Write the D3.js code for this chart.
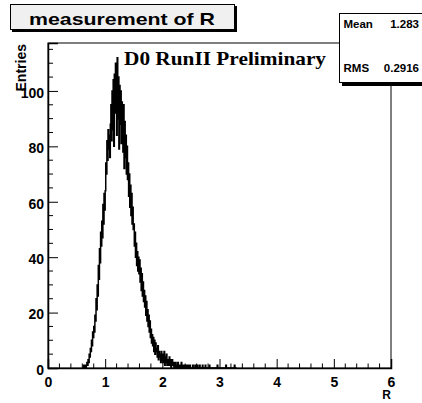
<!DOCTYPE html>
<html><head><meta charset="utf-8">
<script src="https://cdn.jsdelivr.net/npm/d3@7"></script>
<style>body{margin:0;background:#fff}svg{display:block}</style>
</head><body>
<script>
// Histogram: bins of width 0.01 starting at R = 0.60
const binStart = 0.60;
const binWidth = 0.01;
const counts = [
  0,0,1,0,0,1,0,1,2,1,
  3,2,5,4,7,6,10,8,13,11,
  15,13,19,17,25,21,30,26,37,32,
  43,38,49,44,53,47,59,52,63,57,
  64,74,70,82,75,86,79,84,76,88,
  95,82,100,86,104,80,106,92,110,98,
  84,112,90,105,79,102,88,100,81,96,
  91,78,95,72,89,76,84,70,80,68,
  74,62,70,58,66,55,63,52,58,50,
  52,44,49,40,45,37,42,35,40,34,
  39,31,36,28,34,26,31,24,28,22,
  26,19,24,17,21,15,19,13,17,11,
  14,9,12,8,11,6,10,5,9,6,
  7,4,8,3,6,4,5,2,6,3,
  5,2,4,6,1,4,2,5,1,3,
  3,1,4,1,3,0,2,3,1,2,
  2,0,1,2,0,1,0,2,1,0,
  1,0,1,2,0,1,0,1,0,0,
  1,0,0,1,0,1,0,0,1,0,
  0,0,0,1,0,0,0,1,0,0,
  0,1,0,0,0,1,0,0,0,0,
  1,0,0,0,0,1,0,0,0,0,
  0,0,1,0,0,0,0,0,0,0,
  0,0,0,0,0,0,1,0,0,0,
  0,0,0,0,0,0,0,0,0,0,
  0,1,0,0,0,0,0,0,0,0,
  0,0,0,0,0,0,1,0,0,0
];
const xTicks = [0,1,2,3,4,5,6];
const yTicks = [0,20,40,60,80,100];
const titleText = "measurement of R";
const statLabels = ["Mean","RMS"];
const statValues = ["1.283","0.2916"];
const xTitle = "R";
const yTitle = "Entries";
const watermark = "D0 RunII Preliminary";

const W = 422, H = 403;
const L = 48, R = 391, T = 43, B = 368;
const svg = d3.select("body").append("svg").attr("width", W).attr("height", H);
svg.append("rect").attr("width", W).attr("height", H).attr("fill", "#fff");

const x = d3.scaleLinear().domain([0, 6]).range([L, R]);
const y = d3.scaleLinear().domain([0, 117.3]).range([B, T]);

// frame
svg.append("rect").attr("x", L).attr("y", T).attr("width", R - L).attr("height", B - T)
  .attr("fill", "none").attr("stroke", "#000").attr("stroke-width", 1);

// histogram step path
const pts = [];
pts.push([x(binStart), y(0)]);
counts.forEach((c, i) => {
  const x0 = x(binStart + i * binWidth), x1 = x(binStart + (i + 1) * binWidth);
  pts.push([x0, y(c)]);
  pts.push([x1, y(c)]);
});
pts.push([x(binStart + counts.length * binWidth), y(0)]);
svg.append("path").attr("d", d3.line()(pts)).attr("fill", "none")
  .attr("stroke", "#000").attr("stroke-width", 1.5);

// axes
const font = "'Liberation Sans', Arial, Helvetica, sans-serif";
const xAxis = d3.axisBottom(x).tickValues(xTicks).tickSize(-9).tickPadding(9).tickFormat(d3.format("d"));
const gx = svg.append("g").attr("transform", `translate(0,${B})`).call(xAxis);
const xMinor = d3.range(0, 6.001, 0.2).filter(v => Math.abs(v - Math.round(v)) > 1e-6);
gx.selectAll(".minor").data(xMinor).enter().append("line").attr("class", "minor")
  .attr("x1", d => x(d)).attr("x2", d => x(d)).attr("y1", 0).attr("y2", -4.5).attr("stroke", "#000");

const yAxis = d3.axisLeft(y).tickValues(yTicks).tickSize(-10).tickPadding(5).tickFormat(d3.format("d"));
const gy = svg.append("g").attr("transform", `translate(${L},0)`).call(yAxis);
const yMinor = d3.range(0, 117, 5).filter(v => v % 20 !== 0);
gy.selectAll(".minor").data(yMinor).enter().append("line").attr("class", "minor")
  .attr("y1", d => y(d)).attr("y2", d => y(d)).attr("x1", 0).attr("x2", 5).attr("stroke", "#000");

[gx, gy].forEach(g => {
  g.select(".domain").attr("stroke", "#000").attr("stroke-width", 1.5);
  g.selectAll(".tick line").attr("stroke", "#000");
  g.selectAll("text").attr("font-family", font).attr("font-weight", "bold")
    .attr("font-size", 14).attr("fill", "#000");
});
gx.selectAll(".tick text").attr("dy", "0.71em");
gy.selectAll(".tick text").attr("dy", "0.45em").attr("x", -4);

// axis titles
svg.append("text").attr("x", R).attr("y", 399).attr("text-anchor", "end")
  .attr("font-family", font).attr("font-weight", "bold").attr("font-size", 12).text(xTitle);
svg.append("text").attr("transform", `translate(26,${T + 1}) rotate(-90)`).attr("text-anchor", "end")
  .attr("font-family", font).attr("font-weight", "bold").attr("font-size", 14).text(yTitle);

// watermark
svg.append("text").attr("x", 124).attr("y", 65)
  .attr("font-family", "'Liberation Serif', 'DejaVu Serif', serif").attr("font-weight", "bold")
  .attr("font-size", 19).attr("textLength", 202).attr("lengthAdjust", "spacingAndGlyphs").text(watermark);

// title box
svg.append("rect").attr("x", 12).attr("y", 6).attr("width", 225).attr("height", 26).attr("fill", "#000");
svg.append("rect").attr("x", 10.5).attr("y", 4.5).attr("width", 224).attr("height", 25)
  .attr("fill", "#f0f0f0").attr("stroke", "#000").attr("stroke-width", 1);
svg.append("text").attr("x", 29).attr("y", 25)
  .attr("font-family", font).attr("font-weight", "bold").attr("font-size", 17)
  .attr("textLength", 186).attr("lengthAdjust", "spacingAndGlyphs").text(titleText);

// stats box
svg.append("rect").attr("x", 342).attr("y", 16).attr("width", 100).attr("height", 70).attr("fill", "#000");
svg.append("rect").attr("x", 339.5).attr("y", 13.5).attr("width", 100).attr("height", 69)
  .attr("fill", "#fff").attr("stroke", "#000").attr("stroke-width", 1);
statLabels.forEach((s, i) => {
  const by = i === 0 ? 28 : 72;
  svg.append("text").attr("x", 343.5).attr("y", by).attr("font-family", font)
    .attr("font-weight", "bold").attr("font-size", 11.5).text(s);
  svg.append("text").attr("x", 419).attr("y", by).attr("text-anchor", "end").attr("font-family", font)
    .attr("font-weight", "bold").attr("font-size", 11.5).text(statValues[i]);
});
</script>
</body></html>
